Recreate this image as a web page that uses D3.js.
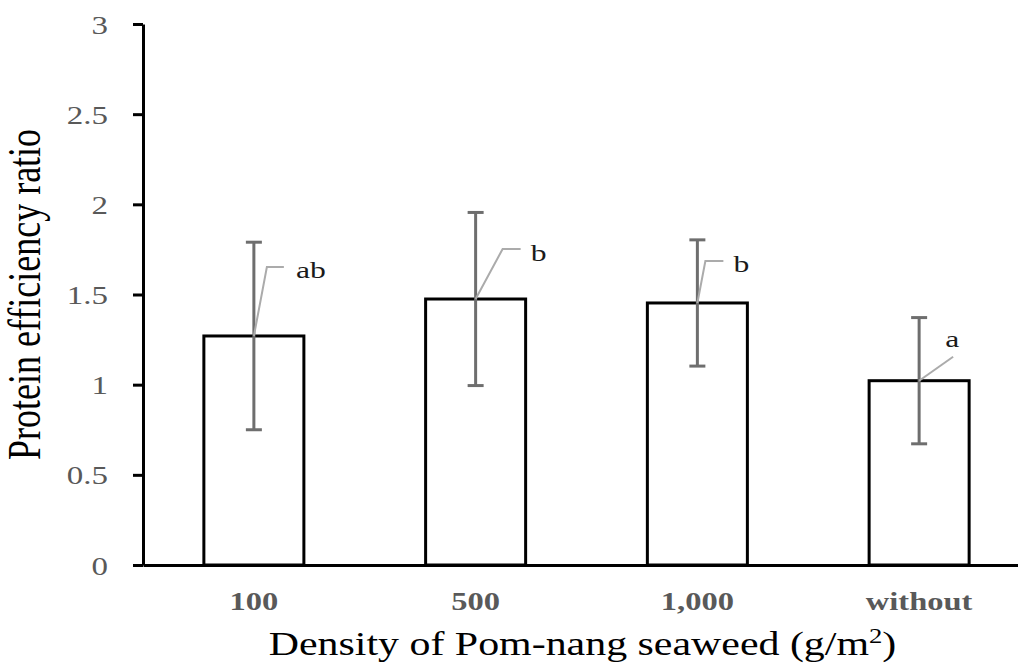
<!DOCTYPE html>
<html>
<head>
<meta charset="utf-8">
<script src="https://cdn.jsdelivr.net/npm/d3@7"></script>
<style>
  body { margin: 0; background: #fff; }
  svg { display: block; font-family: "Liberation Serif", "Times New Roman", serif; }
</style>
</head>
<body>
<svg id="chart"></svg>
<script>
// data
const densities = ["100", "500", "1,000", "without"];
const perMeans = [1.27, 1.475, 1.453, 1.022];
const perSD = [0.52, 0.48, 0.35, 0.35];
const letters = ["ab", "b", "b", "a"];
const yTicks = [0, 0.5, 1, 1.5, 2, 2.5, 3];

// leader line offsets from the bar top (pixels): [dx1, dy1, dx2, dy2]
const leaderOffsets = [
  [13, -69, 30, -69],
  [27, -50, 45, -50],
  [8, -42, 26, -42],
  [34, -24, 34, -24]
];
const letterOffsets = [[42, -58], [55, -38], [36, -31], [26, -34]];

const width = 1018, height = 663;
const marginLeft = 143, marginTop = 24, marginBottom = 98, plotRight = 1030;
const sx = 1.32; // the picture is stretched sideways

const data = densities.map((d, i) => ({ name: d, mean: perMeans[i], sd: perSD[i], letter: letters[i] }));

const svg = d3.select("#chart")
  .attr("width", width)
  .attr("height", height);

const x = d3.scaleBand()
  .domain(densities)
  .range([marginLeft, plotRight])
  .paddingInner(0.549)
  .paddingOuter(0.2745);

const y = d3.scaleLinear()
  .domain([0, 3])
  .range([height - marginBottom, marginTop]);

// bars
svg.append("g")
  .selectAll("rect")
  .data(data)
  .join("rect")
  .attr("x", d => x(d.name))
  .attr("y", d => y(d.mean))
  .attr("width", x.bandwidth())
  .attr("height", d => y(0) - y(d.mean))
  .attr("fill", "#fff")
  .attr("stroke", "#000")
  .attr("stroke-width", 3);

// error bars
const err = svg.append("g")
  .attr("stroke", "#6e6e6e")
  .attr("stroke-width", 3)
  .selectAll("g")
  .data(data)
  .join("g")
  .attr("transform", d => `translate(${x(d.name) + x.bandwidth() / 2},0)`);

err.append("line")
  .attr("y1", d => y(d.mean - d.sd))
  .attr("y2", d => y(d.mean + d.sd));
err.append("line")
  .attr("x1", -8).attr("x2", 8)
  .attr("y1", d => y(d.mean + d.sd))
  .attr("y2", d => y(d.mean + d.sd));
err.append("line")
  .attr("x1", -8).attr("x2", 8)
  .attr("y1", d => y(d.mean - d.sd))
  .attr("y2", d => y(d.mean - d.sd));

// letters with leader lines
const lab = svg.append("g")
  .selectAll("g")
  .data(data)
  .join("g")
  .attr("transform", d => `translate(${x(d.name) + x.bandwidth() / 2},${y(d.mean)})`);

lab.append("polyline")
  .attr("points", (d, i) => {
    const o = leaderOffsets[i];
    return `0,0 ${o[0]},${o[1]} ${o[2]},${o[3]}`;
  })
  .attr("fill", "none")
  .attr("stroke", "#ababab")
  .attr("stroke-width", 2);

lab.append("text")
  .attr("transform", (d, i) => `translate(${letterOffsets[i][0]},${letterOffsets[i][1]}) scale(${sx},1)`)
  .attr("font-size", 24)
  .attr("fill", "#1a1a1a")
  .text(d => d.letter);

// y axis
svg.append("g")
  .attr("transform", `translate(${marginLeft},0)`)
  .call(d3.axisLeft(y).tickValues(yTicks).tickSize(10).tickSizeOuter(0).tickFormat(d => String(d)))
  .attr("font-family", null)
  .attr("font-size", null)
  .call(g => g.select(".domain").attr("stroke", "#000").attr("stroke-width", 3))
  .call(g => g.selectAll(".tick line").attr("stroke", "#000").attr("stroke-width", 3))
  .call(g => g.selectAll(".tick text")
    .attr("x", null).attr("dy", null)
    .attr("transform", `translate(-35,9) scale(${sx},1)`)
    .attr("font-size", 25)
    .attr("fill", "#595959"));

// x axis
svg.append("g")
  .attr("transform", `translate(0,${y(0)})`)
  .call(d3.axisBottom(x).tickSize(0).tickSizeOuter(0))
  .attr("font-family", null)
  .attr("font-size", null)
  .call(g => g.select(".domain").attr("stroke", "#000").attr("stroke-width", 3))
  .call(g => g.selectAll(".tick text")
    .attr("y", null).attr("dy", null)
    .attr("transform", `translate(0,45) scale(1.25,1)`)
    .attr("font-size", 26)
    .attr("font-weight", "bold")
    .attr("fill", "#595959"));

// axis titles
const xt = svg.append("text")
  .attr("transform", `translate(${(marginLeft + plotRight) / 2 - 4},655) scale(1.27,1)`)
  .attr("text-anchor", "middle")
  .attr("font-size", 33)
  .attr("fill", "#000");
xt.append("tspan").text("Density of Pom-nang seaweed (g/m");
xt.append("tspan").attr("font-size", 21).attr("dy", -12).text("2");
xt.append("tspan").attr("dy", 12).text(")");

svg.append("text")
  .attr("transform", `translate(40,${(marginTop + y(0)) / 2}) scale(1.3,1) rotate(-90)`)
  .attr("text-anchor", "middle")
  .attr("font-size", 36)
  .attr("fill", "#000")
  .text("Protein efficiency ratio");
</script>
</body>
</html>
